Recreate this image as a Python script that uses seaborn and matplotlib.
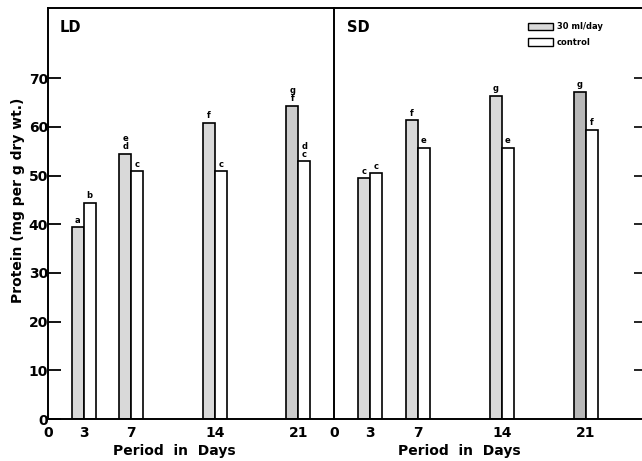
import matplotlib
matplotlib.use('Agg')
import matplotlib.pyplot as plt
from matplotlib.patches import Patch
import pandas as pd
import seaborn as sns

# values (mg protein per g dry wt.)
days = [3, 7, 14, 21]
treatments = ['30 ml/day', 'control']
ld_treated = [39.4, 54.5, 60.8, 64.3]
ld_control = [44.4, 50.9, 50.9, 52.9]
sd_treated = [49.5, 61.3, 66.4, 67.2]
sd_control = [50.5, 55.7, 55.7, 59.4]
# significance letters above the bars
ld_treated_marks = ['a', 'e\nd', 'f', 'g\nf']
ld_control_marks = ['b', 'c', 'c', 'd\nc']
sd_treated_marks = ['c', 'f', 'g', 'g']
sd_control_marks = ['c', 'e', 'e', 'f']

sns.set_style('ticks')
plt.rcParams['font.family'] = ['DejaVu Sans']
plt.rcParams['font.weight'] = 'bold'
for k in ['text.color', 'axes.labelcolor', 'xtick.color', 'ytick.color',
          'xtick.labelcolor', 'ytick.labelcolor']:
    plt.rcParams[k] = 'black'

colors = {'30 ml/day': '#d9d9d9', 'control': 'white'}


def make_df(treated, control):
    return pd.DataFrame({
        'day': days + days,
        'protein': treated + control,
        'treatment': [treatments[0]] * len(days) + [treatments[1]] * len(days),
    })


W, H = 642, 461
fig = plt.figure(figsize=(W / 100, H / 100), dpi=100)
ax1 = fig.add_axes([48 / W, 42 / H, 286 / W, 411 / H])
ax2 = fig.add_axes([334 / W, 42 / H, 308 / W, 411 / H])

# stipple looks a touch darker on the day-21 bars in the print
panels = [
    (ax1, 'LD', ld_treated, ld_control, ld_treated_marks, ld_control_marks, 24.0, 0.44, '#cccccc'),
    (ax2, 'SD', sd_treated, sd_control, sd_treated_marks, sd_control_marks, 25.67, 0.406, '#b8b8b8'),
]

for ax, name, tr, ct, tr_m, ct_m, xmax, xlab_x, dark in panels:
    sns.barplot(data=make_df(tr, ct), x='day', y='protein', hue='treatment',
                hue_order=treatments, palette=colors, native_scale=True,
                width=0.5, dodge=True, errorbar=None, edgecolor='black',
                linewidth=1.2, legend=False, ax=ax)
    ax.patches[len(days) - 1].set_facecolor(dark)
    for i, d in enumerate(days):
        ax.text(d - 0.5, tr[i] + 0.5, tr_m[i], ha='center', va='bottom',
                fontsize=6, fontweight='bold', linespacing=0.85)
        ax.text(d + 0.5, ct[i] + 0.5, ct_m[i], ha='center', va='bottom',
                fontsize=6, fontweight='bold', linespacing=0.85)
    ax.set_xlim(0, xmax)
    ax.set_ylim(0, 84.4)
    ax.set_xticks([0] + days)
    ax.set_xticklabels(['0'] + [str(d) for d in days], fontsize=10, fontweight='bold')
    ax.tick_params(axis='x', length=0, pad=5)
    ax.set_xlabel('Period  in  Days', fontsize=10, fontweight='bold')
    ax.xaxis.set_label_coords(xlab_x, -0.06)
    ax.text(0.042, 0.953, name, transform=ax.transAxes, fontsize=10.5,
            fontweight='bold', ha='left', va='center')
    for sp in ax.spines.values():
        sp.set_linewidth(1.4)
        sp.set_color('black')

ax1.spines['right'].set_visible(False)
ax1.set_yticks(range(0, 80, 10))
ax1.set_yticklabels([str(v) for v in range(0, 80, 10)], fontsize=10, fontweight='bold')
ax1.tick_params(axis='y', direction='in', length=9, width=1.3, pad=0)
ax1.set_ylabel('Protein (mg per g dry wt.)', fontsize=10, fontweight='bold')
ax1.yaxis.set_label_coords(-0.08, 0.533)

ax2.spines['right'].set_visible(False)
ax2.set_ylabel('')
ax2.yaxis.tick_right()
ax2.set_yticks(range(10, 80, 10))
ax2.tick_params(axis='y', direction='in', length=6, width=1.2, labelright=False)

handles = [Patch(facecolor=colors[t], edgecolor='black', linewidth=1.0, label=t)
           for t in treatments]
ax2.legend(handles=handles, loc='upper left', bbox_to_anchor=(0.615, 0.975),
           frameon=False, prop={'size': 6, 'weight': 'bold'}, handlelength=3.0,
           handleheight=1.0, handletextpad=0.5, labelspacing=0.75, borderpad=0)

fig.savefig('out.png', dpi=100)
